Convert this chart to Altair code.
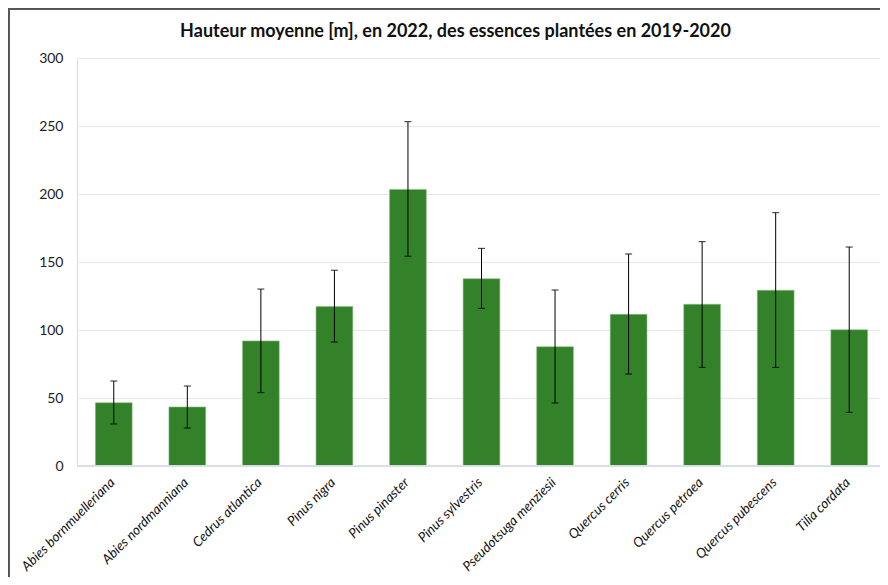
import altair as alt
import pandas as pd

species = ["Abies bornmuelleriana", "Abies nordmanniana", "Cedrus atlantica", "Pinus nigra",
           "Pinus pinaster", "Pinus sylvestris", "Pseudotsuga menziesii", "Quercus cerris",
           "Quercus petraea", "Quercus pubescens", "Tilia cordata"]
mean_height = [46.5, 43.4, 92.0, 117.2, 203.4, 137.7, 87.7, 111.5, 118.9, 129.2, 100.2]
err_low = [30.9, 27.9, 54.0, 91.2, 154.2, 115.9, 46.3, 67.6, 72.5, 72.5, 39.4]
err_high = [62.5, 58.8, 130.1, 143.9, 253.2, 160.0, 129.4, 155.9, 165.0, 186.3, 161.0]

df = pd.DataFrame({"essence": species, "hauteur": mean_height, "lo": err_low, "hi": err_high})

FONT = "Lato"
W, H = 803, 408
BAND_RANGE = 809

xscale = alt.Scale(paddingInner=0.5, paddingOuter=0.25, range=[0, BAND_RANGE])
x = alt.X("essence:N", sort=species, title=None, scale=xscale,
          axis=alt.Axis(labelAngle=-45, labelFont=FONT, labelFontStyle="italic", labelFontSize=13.5,
                        labelColor="#111111", ticks=False, domain=False, labelPadding=9,
                        labelOffset=-6, labelLimit=300))
yscale = alt.Scale(domain=[0, 300])

bars = alt.Chart(df).mark_bar(color="#33822a", stroke="#8cbf85", strokeWidth=0.6).encode(
    x=x,
    y=alt.Y("hauteur:Q", scale=yscale, title=None,
            axis=alt.Axis(values=[0, 50, 100, 150, 200, 250, 300], labelFont=FONT, labelFontSize=14,
                          labelColor="#222222", ticks=False, domain=False, labelPadding=14,
                          gridColor="#e3e8ef", gridWidth=1)),
)

rules = alt.Chart(df).mark_rule(color="#000000", strokeWidth=1).encode(
    x=alt.X("essence:N", sort=species), y=alt.Y("lo:Q", scale=yscale), y2="hi:Q"
)
cap_lo = alt.Chart(df).mark_tick(color="#000000", thickness=1.2, size=7).encode(
    x=alt.X("essence:N", sort=species), y=alt.Y("lo:Q", scale=yscale)
)
cap_hi = alt.Chart(df).mark_tick(color="#000000", thickness=1.2, size=7).encode(
    x=alt.X("essence:N", sort=species), y=alt.Y("hi:Q", scale=yscale)
)

baseline = alt.Chart(df).mark_rule(color="#d9dee5", strokeWidth=1).encode(
    y=alt.datum(0)
)

frame = alt.Chart(df).mark_rect(fill=None, stroke="#555555", strokeWidth=1.5, clip=False).encode(
    x=alt.value(-68.5), x2=alt.value(W + 10), y=alt.value(-49.5), y2=alt.value(H + 130)
)

chart = alt.layer(bars, baseline, rules, cap_lo, cap_hi, frame).properties(
    width=W, height=H,
    autosize=alt.AutoSizeParams(type="none"),
    padding={"left": 69, "top": 50, "right": 0, "bottom": 111},
    title=alt.TitleParams("Hauteur moyenne [m], en 2022, des essences plantées en 2019-2020",
                          font=FONT, fontSize=18, fontWeight="bold", color="#111111",
                          anchor="middle", frame="group", offset=0, dx=-23, dy=33),
).configure_view(stroke=None).configure(background="white")

chart.save("out.html", embed_options={"renderer": "svg", "actions": False})
